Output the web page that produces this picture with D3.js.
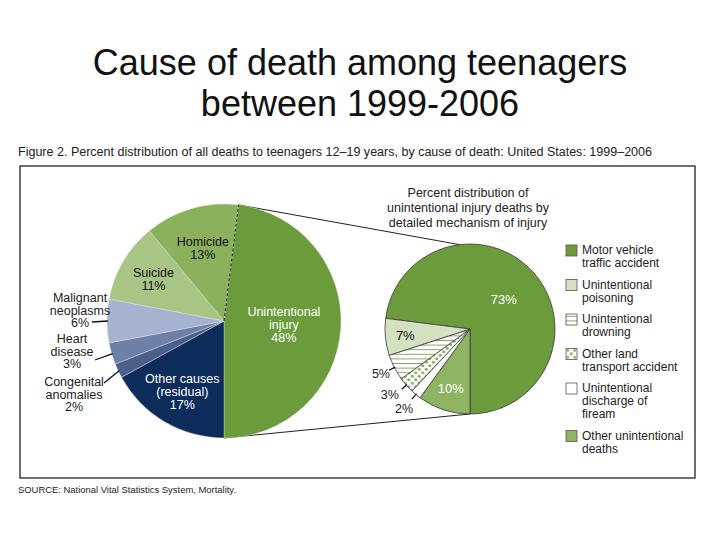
<!DOCTYPE html>
<html>
<head>
<meta charset="utf-8">
<script src="https://cdn.jsdelivr.net/npm/d3@7"></script>
<style>
  body { margin: 0; background: #fff; }
  svg { display: block; font-family: "Liberation Sans", Arial, sans-serif; }
</style>
</head>
<body>
<svg id="svg" width="720" height="540"></svg>
<script>
"use strict";

// all deaths 12-19 yrs, by cause (clockwise from the unintentional injury slice)
const causes = ["Unintentional\ninjury", "Other causes\n(residual)", "Congenital\nanomalies", "Heart\ndisease", "Malignant\nneoplasms", "Suicide", "Homicide"];
const causePct = [48, 17, 2, 3, 6, 11, 13];
const causeColors = ["#6b9b3a", "#0d2c5c", "#4b5f8d", "#6e80a8", "#a5b2d0", "#a9c585", "#8bb15d"];

// unintentional injury deaths by mechanism
const mechanisms = ["Motor vehicle\ntraffic accident", "Other unintentional\ndeaths", "Unintentional\ndischarge of\nfiream", "Other land\ntransport  accident", "Unintentional\ndrowning", "Unintentional\npoisoning"];
const mechPct = [73, 10, 2, 3, 5, 7];
const mechFills = ["#6b9b3a", "#8db363", "#ffffff", "url(#dots)", "url(#stripes)", "#d4e1c2"];
// legend order as printed
const legendOrder = [0, 5, 4, 3, 2, 1];

const svg = d3.select("#svg");
const deg = Math.PI / 180;

// patterns for the hatched slices
const defs = svg.append("defs");
const stripes = defs.append("pattern")
	.attr("id", "stripes")
	.attr("patternUnits", "userSpaceOnUse")
	.attr("width", 6).attr("height", 4.6);
stripes.append("rect").attr("width", 6).attr("height", 4.6).attr("fill", "#fff");
stripes.append("line")
	.attr("x1", 0).attr("x2", 6).attr("y1", 2.3).attr("y2", 2.3)
	.attr("stroke", "#86a565").attr("stroke-width", 1);

const dots = defs.append("pattern")
	.attr("id", "dots")
	.attr("patternUnits", "userSpaceOnUse")
	.attr("width", 7).attr("height", 7);
dots.append("rect").attr("width", 7).attr("height", 7).attr("fill", "#fff");
dots.append("circle").attr("cx", 1.75).attr("cy", 1.75).attr("r", 1.6).attr("fill", "#8db363");
dots.append("circle").attr("cx", 5.25).attr("cy", 5.25).attr("r", 1.6).attr("fill", "#8db363");

// slide title
svg.append("text")
	.attr("x", 360).attr("y", 75)
	.attr("text-anchor", "middle")
	.attr("font-size", "36px")
	.attr("fill", "#111")
	.text("Cause of death among teenagers");
svg.append("text")
	.attr("x", 360).attr("y", 116)
	.attr("text-anchor", "middle")
	.attr("font-size", "36px")
	.attr("fill", "#111")
	.text("between 1999-2006");

// figure caption + source
svg.append("text")
	.attr("x", 18).attr("y", 156)
	.attr("font-family", "'Liberation Sans Narrow', 'Liberation Sans', sans-serif")
	.attr("font-size", "12px")
	.attr("textLength", 634)
	.attr("lengthAdjust", "spacingAndGlyphs")
	.attr("fill", "#222")
	.text("Figure 2. Percent distribution of all deaths to teenagers 12\u201319 years, by cause of death: United States: 1999\u20132006");

svg.append("text")
	.attr("x", 18).attr("y", 493)
	.attr("font-size", "9.5px")
	.attr("textLength", 218)
	.attr("lengthAdjust", "spacingAndGlyphs")
	.attr("fill", "#222")
	.text("SOURCE: National Vital Statistics System, Mortality.");

svg.append("rect")
	.attr("x", 20).attr("y", 166)
	.attr("width", 675).attr("height", 312)
	.attr("fill", "none")
	.attr("stroke", "#222")
	.attr("stroke-width", 1.3);

// ---- main pie
const main = { cx: 224, cy: 321, r: 117 };
const mainStart = 180 * deg - (causePct[0] / 100) * 2 * Math.PI;
const mainArcs = d3.pie().sort(null)
	.startAngle(mainStart).endAngle(mainStart + 2 * Math.PI)(causePct);
const mainArc = d3.arc().innerRadius(0).outerRadius(main.r);

// ---- detail pie
const detail = { cx: 470, cy: 329, r: 85 };
const detStart = 180 * deg - (mechPct[0] / 100) * 2 * Math.PI;
const detArcs = d3.pie().sort(null)
	.startAngle(detStart).endAngle(detStart + 2 * Math.PI)(mechPct);
const detArc = d3.arc().innerRadius(0).outerRadius(detail.r);

const onCircle = (c, a, r) => [c.cx + r * Math.sin(a), c.cy - r * Math.cos(a)];

// connector lines between the two pies (drawn under the pies)
const conn = svg.append("g").attr("stroke", "#222").attr("stroke-width", 1).attr("fill", "none");
const topA = onCircle(main, mainArcs[0].startAngle, main.r);
const botA = onCircle(main, mainArcs[0].endAngle, main.r);
conn.append("line")
	.attr("x1", topA[0]).attr("y1", topA[1])
	.attr("x2", onCircle(detail, -7 * deg, detail.r)[0])
	.attr("y2", onCircle(detail, -7 * deg, detail.r)[1]);
conn.append("line")
	.attr("x1", botA[0]).attr("y1", botA[1])
	.attr("x2", onCircle(detail, 180 * deg, detail.r)[0])
	.attr("y2", onCircle(detail, 180 * deg, detail.r)[1]);

const gMain = svg.append("g").attr("transform", `translate(${main.cx},${main.cy})`);
gMain.selectAll("path")
	.data(mainArcs)
	.enter()
	.append("path")
	.attr("d", mainArc)
	.attr("fill", (d, i) => causeColors[i])
	.attr("stroke", "#dfe6d8")
	.attr("stroke-width", 0.4);

// dashed edge where the detail pie breaks out
gMain.append("line")
	.attr("x1", 0).attr("y1", 0)
	.attr("x2", topA[0] - main.cx).attr("y2", topA[1] - main.cy)
	.attr("stroke", "#1a1a1a")
	.attr("stroke-width", 1)
	.attr("stroke-dasharray", "3,2");

// labels inside main pie: [index, radius, colour]
const innerLabels = [[0, 60, "#fff"], [1, 82, "#fff"], [5, 82, "#111"], [6, 76, "#111"]];
innerLabels.forEach(([i, rad, col]) => {
	const a = (mainArcs[i].startAngle + mainArcs[i].endAngle) / 2;
	const lines = causes[i].split("\n").concat([causePct[i] + "%"]);
	const t = gMain.append("text")
		.attr("text-anchor", "middle")
		.attr("font-size", "12.5px")
		.attr("fill", col);
	const x = rad * Math.sin(a), y = -rad * Math.cos(a);
	lines.forEach((s, k) => {
		t.append("tspan")
			.attr("x", x)
			.attr("y", y + (k - (lines.length - 1) / 2) * 13 + 4.5)
			.text(s);
	});
});

// labels outside main pie, with leader lines: [index, label dx, label dy, leader start dx, dy]
const outerLabels = [[4, -144, -11, -132, 1], [3, -152, 30, -129, 39], [2, -150, 73, -120, 62]];
outerLabels.forEach(([i, lx, ly, sx, sy]) => {
	const a = (mainArcs[i].startAngle + mainArcs[i].endAngle) / 2;
	const e = [main.r * Math.sin(a), -main.r * Math.cos(a)];
	gMain.append("path")
		.attr("d", `M${sx},${sy}L${e[0] + 1},${e[1]}`)
		.attr("stroke", "#111")
		.attr("stroke-width", 1.3)
		.attr("fill", "none");
	const lines = causes[i].split("\n").concat([causePct[i] + "%"]);
	const t = gMain.append("text")
		.attr("text-anchor", "middle")
		.attr("font-size", "12.5px")
		.attr("fill", "#222");
	lines.forEach((s, k) => {
		t.append("tspan")
			.attr("x", lx)
			.attr("y", ly + (k - 1) * 12.5 + 4.5)
			.text(s);
	});
});

// detail pie
const gDet = svg.append("g").attr("transform", `translate(${detail.cx},${detail.cy})`);
gDet.selectAll("path")
	.data(detArcs)
	.enter()
	.append("path")
	.attr("d", detArc)
	.attr("fill", (d, i) => mechFills[i])
	.attr("stroke", "#3a3a3a")
	.attr("stroke-width", 0.8);

// heading over the detail pie
const head = svg.append("text")
	.attr("text-anchor", "middle")
	.attr("font-size", "12.5px")
	.attr("fill", "#222");
["Percent distribution of", "unintentional injury deaths by", "detailed mechanism of injury"].forEach((s, k) => {
	head.append("tspan").attr("x", 468).attr("y", 197 + k * 15).text(s);
});

// inside labels of detail pie: [index, radius, colour]
const detInner = [[0, 45, "#fff"], [1, 62, "#fff"], [5, 65, "#111"]];
detInner.forEach(([i, rad, col]) => {
	const a = (detArcs[i].startAngle + detArcs[i].endAngle) / 2;
	gDet.append("text")
		.attr("x", rad * Math.sin(a))
		.attr("y", -rad * Math.cos(a) + 5)
		.attr("text-anchor", "middle")
		.attr("font-size", "13px")
		.attr("fill", col)
		.text(mechPct[i] + "%");
});

// small slices with leader ticks: [index, label dx, label dy]
const detOuter = [[4, -8, 8], [3, -12, 10], [2, -8, 14]];
detOuter.forEach(([i, lx, ly]) => {
	const a = (detArcs[i].startAngle + detArcs[i].endAngle) / 2;
	const p0 = [(detail.r - 1) * Math.sin(a), -(detail.r - 1) * Math.cos(a)];
	const p1 = [(detail.r + 6) * Math.sin(a), -(detail.r + 6) * Math.cos(a)];
	gDet.append("line")
		.attr("x1", p0[0]).attr("y1", p0[1])
		.attr("x2", p1[0]).attr("y2", p1[1])
		.attr("stroke", "#111").attr("stroke-width", 1.2);
	gDet.append("text")
		.attr("x", p1[0] + lx)
		.attr("y", p1[1] + ly)
		.attr("text-anchor", "middle")
		.attr("font-size", "12.5px")
		.attr("fill", "#222")
		.text(mechPct[i] + "%");
});

// legend
const legend = svg.append("g").attr("transform", "translate(566,245)");
let ly = 0;
legendOrder.forEach((i) => {
	const lines = mechanisms[i].split("\n");
	const item = legend.append("g").attr("transform", `translate(0,${ly})`);
	item.append("rect")
		.attr("width", 11).attr("height", 11)
		.attr("fill", mechFills[i])
		.attr("stroke", "#555")
		.attr("stroke-width", 0.8);
	const t = item.append("text")
		.attr("font-size", "12px")
		.attr("fill", "#222");
	lines.forEach((s, k) => {
		t.append("tspan").attr("x", 16).attr("y", 9 + k * 13).text(s);
	});
	ly += lines.length * 13 + 8.5;
});
</script>
</body>
</html>
